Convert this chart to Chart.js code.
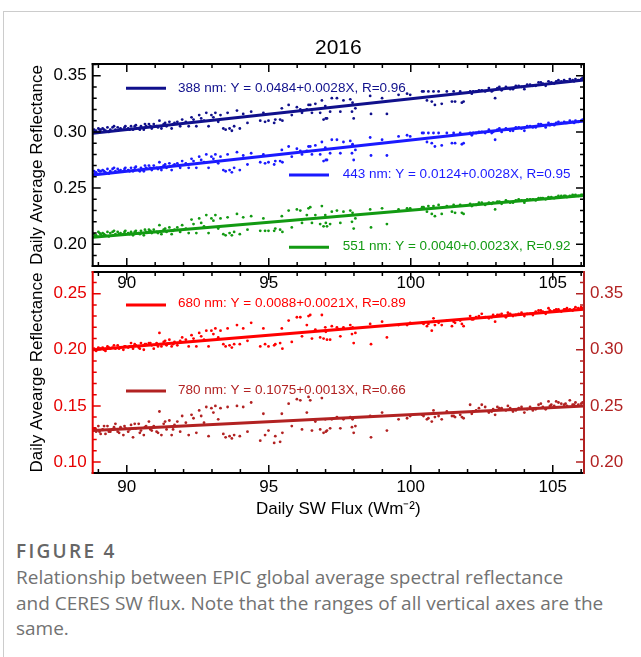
<!DOCTYPE html>
<html>
<head>
<meta charset="utf-8">
<script src="https://cdn.jsdelivr.net/npm/chart.js@4.4.1/dist/chart.umd.min.js"></script>
<style>
html,body{margin:0;padding:0;background:#fff;}
body{width:641px;height:657px;position:relative;overflow:hidden;}
#frame{position:absolute;left:3px;top:11px;width:700px;height:700px;border-left:1px solid #cccccc;border-top:1px solid #cccccc;}
#c1{position:absolute;left:0;top:0;}
#c2{position:absolute;left:0;top:268px;}
#fig{position:absolute;left:16px;top:538px;font-family:"Open Sans",sans-serif;font-weight:600;font-size:19px;line-height:26px;color:#666666;letter-spacing:2.3px;white-space:nowrap;}
#cap{position:absolute;left:16px;top:565px;width:625px;font-family:"Open Sans",sans-serif;font-size:19px;line-height:25.7px;color:#727272;white-space:nowrap;}
</style>
</head>
<body>
<div id="frame"></div>
<canvas id="c1" width="641" height="300"></canvas>
<canvas id="c2" width="641" height="260"></canvas>
<div id="fig">FIGURE 4</div>
<div id="cap">Relationship between EPIC global average spectral reflectance<br>and CERES SW flux. Note that the ranges of all vertical axes are the<br>same.</div>
<script>
// ---------------- data ----------------
const flux = [
88.85,88.92,89.00,89.08,89.15,89.25,89.32,89.42,89.50,89.60,89.68,89.78,89.88,89.95,90.05,90.15,90.22,90.32,90.42,90.50,90.60,90.68,90.78,90.88,90.95,91.05,91.15,91.22,91.30,91.40,91.50,91.58,91.68,91.78,91.88,91.95,
92.08,92.18,92.28,92.35,92.45,92.55,92.62,92.72,92.80,92.88,92.98,93.05,93.12,93.22,93.30,93.40,93.48,93.55,93.62,93.70,93.78,93.88,93.98,94.10,94.25,94.38,
94.70,94.81,94.87,94.99,95.19,95.23,95.40,95.46,95.48,95.70,95.81,95.99,96.11,96.17,96.34,96.40,96.46,96.52,96.64,96.81,96.87,96.93,96.99,97.01,97.05,97.16,97.22,97.40,97.52,97.63,97.87,97.93,97.95,97.99,98.05,98.57,98.60,98.99,99.16,99.57,99.87,99.98,100.40,
100.45,100.57,100.62,100.74,100.80,100.85,100.98,101.09,101.27,101.45,101.51,101.56,101.74,101.80,101.86,102.09,102.15,102.30,102.50,102.62,102.75,102.90,102.97,103.05,103.20,103.35,103.50,103.70,103.90,104.00,104.10,104.30,104.50,104.65,104.75,104.85,104.95,105.05,105.20,105.30,105.40,105.50,105.60,105.70,105.80,105.90,106.00,
88.88,89.04,89.20,89.37,89.55,89.73,89.92,90.10,90.28,90.46,90.64,90.83,91.10,91.35,91.63,
102.20,102.40,102.85,103.12,103.42,103.60,103.80,104.20,104.40,104.58,104.90,105.12,105.45,105.75,106.05];

const refl388 = [
.302,.301,.303,.302,.303,.301,.304,.302,.304,.302,.304,.303,.302,.305,.303,.305,.302,.306,.303,.305,.302,.305,.307,.303,.307,.305,.310,.303,.307,.305,.309,.303,.308,.309,.305,.311,
.309,.305,.313,.311,.305,.315,.312,.310,.317,.305,.315,.313,.317,.309,.315,.303,.302,.317,.303,.301,.305,.319,.303,.316,.308,.318,
.310,.317,.309,.310,.308,.311,.311,.321,.310,.324,.315,.322,.320,.317,.320,.324,.324,.317,.325,.317,.328,.311,.323,.312,.312,.318,.330,.330,.318,.328,.329,.318,.326,.312,.321,.332,.316,.330,.316,.333,.334,.333,.336,
.336,.328,.336,.327,.336,.324,.336,.325,.336,.327,.336,.327,.336,.326,.327,.336,.334,.336,.337,.336,.339,.337,.330,.339,.337,.340,.338,.341,.340,.338,.342,.341,.344,.343,.341,.345,.344,.343,.346,.345,.346,.345,.347,.346,.347,.346,.347,
.300,.302,.302,.300,.305,.302,.304,.302,.305,.302,.307,.305,.304,.308,.307,
.336,.337,.336,.340,.339,.338,.341,.342,.341,.344,.343,.345,.345,.345,.348];

const refl443 = [
.265,.264,.266,.265,.266,.264,.267,.265,.267,.265,.267,.266,.265,.268,.266,.268,.265,.269,.266,.268,.265,.268,.270,.266,.270,.268,.273,.266,.270,.268,.272,.266,.271,.272,.268,.274,
.272,.268,.276,.274,.268,.278,.275,.273,.280,.268,.278,.276,.280,.272,.278,.266,.265,.280,.266,.264,.268,.282,.266,.279,.271,.281,
.273,.280,.272,.273,.271,.274,.274,.284,.273,.287,.278,.285,.283,.280,.283,.287,.287,.280,.288,.280,.291,.274,.286,.275,.275,.281,.293,.293,.281,.291,.292,.281,.289,.275,.284,.295,.279,.293,.279,.296,.297,.296,.299,
.299,.291,.299,.290,.299,.287,.299,.288,.299,.290,.299,.290,.299,.289,.290,.299,.297,.299,.300,.299,.302,.300,.293,.302,.300,.303,.301,.304,.303,.301,.305,.304,.307,.306,.304,.308,.307,.306,.309,.308,.309,.308,.310,.309,.310,.309,.310,
.263,.265,.265,.263,.268,.265,.267,.265,.268,.265,.270,.268,.267,.271,.270,
.299,.300,.299,.303,.302,.301,.304,.305,.304,.307,.306,.308,.308,.308,.311];

const refl551 = [
.209,.208,.211,.209,.210,.208,.211,.210,.211,.209,.211,.210,.209,.212,.210,.211,.208,.212,.210,.212,.208,.211,.213,.210,.213,.211,.217,.209,.213,.211,.215,.209,.213,.215,.211,.217,
.214,.210,.222,.218,.210,.223,.219,.216,.226,.210,.223,.221,.226,.214,.223,.209,.208,.224,.210,.208,.211,.227,.209,.224,.213,.225,
.212,.223,.212,.212,.212,.214,.213,.225,.211,.230,.215,.231,.230,.219,.226,.232,.233,.219,.226,.218,.234,.216,.226,.219,.216,.218,.229,.230,.219,.229,.230,.220,.228,.214,.223,.231,.215,.232,.218,.231,.232,.232,.233,
.233,.229,.234,.227,.234,.225,.235,.227,.234,.229,.235,.228,.235,.228,.227,.236,.234,.235,.237,.235,.237,.237,.231,.238,.236,.239,.237,.239,.239,.237,.240,.240,.241,.241,.240,.242,.242,.241,.243,.243,.243,.242,.243,.244,.244,.243,.244,
.207,.210,.209,.207,.212,.209,.211,.209,.211,.209,.213,.212,.210,.214,.212,
.235,.237,.236,.238,.238,.237,.240,.240,.239,.241,.241,.242,.243,.243,.244];

const refl680 = [
.201,.199,.202,.201,.202,.199,.203,.201,.202,.201,.204,.202,.200,.203,.202,.206,.201,.204,.202,.206,.200,.205,.206,.204,.201,.206,.215,.203,.207,.204,.209,.203,.207,.204,.208,.211,
.209,.203,.213,.210,.203,.215,.212,.209,.217,.203,.217,.214,.219,.211,.217,.205,.203,.219,.204,.202,.205,.222,.205,.219,.208,.224,
.203,.219,.205,.203,.204,.205,.206,.219,.201,.226,.207,.229,.229,.212,.222,.230,.231,.210,.218,.211,.231,.210,.220,.216,.209,.209,.221,.220,.212,.220,.222,.214,.220,.206,.215,.223,.205,.225,.211,.222,.222,.224,.224,
.223,.221,.223,.217,.228,.222,.224,.222,.226,.221,.225,.224,.226,.223,.221,.230,.227,.229,.232,.229,.228,.231,.225,.231,.232,.229,.232,.231,.233,.230,.232,.231,.235,.234,.232,.237,.234,.235,.236,.234,.236,.237,.236,.235,.238,.237,.238,
.200,.201,.200,.202,.204,.201,.203,.203,.205,.201,.205,.206,.203,.208,.205,
.227,.230,.229,.231,.233,.230,.232,.232,.234,.235,.235,.236,.236,.236,.237];

// 780 nm is read against the right-hand axis
const refl780 = [
.230,.227,.232,.225,.229,.225,.232,.227,.229,.234,.227,.231,.224,.230,.227,.233,.222,.230,.234,.228,.224,.232,.236,.228,.232,.227,.245,.224,.234,.229,.237,.224,.233,.236,.227,.241,
.235,.224,.242,.239,.226,.246,.241,.235,.249,.223,.248,.244,.250,.238,.248,.225,.222,.249,.223,.221,.224,.250,.223,.249,.227,.253,
.219,.243,.224,.228,.217,.223,.218,.243,.226,.252,.232,.256,.255,.229,.244,.258,.255,.228,.236,.229,.257,.226,.238,.227,.228,.230,.238,.240,.230,.238,.240,.231,.238,.226,.232,.241,.222,.244,.228,.238,.239,.241,.242,
.241,.238,.239,.236,.246,.240,.241,.238,.245,.241,.241,.240,.242,.240,.239,.251,.243,.246,.251,.249,.244,.247,.242,.249,.248,.246,.248,.246,.249,.244,.247,.246,.251,.249,.247,.254,.251,.250,.253,.252,.251,.250,.255,.251,.253,.251,.252,
.230,.227,.232,.227,.231,.226,.232,.229,.234,.226,.231,.229,.226,.236,.229,
.245,.248,.245,.248,.250,.245,.248,.249,.247,.252,.250,.254,.252,.251,.253];

// regression lines: value at left and right end of the flux axis
const fitX = [88.8, 106.1];
const fitStart = [0.2988, 0.2616, 0.2062, 0.2000, 0.2280];
const fitEnd   = [0.3462, 0.3098, 0.2435, 0.2362, 0.2500];
const fitLabels = [
  '388 nm: Y = 0.0484+0.0028X, R=0.96',
  '443 nm: Y = 0.0124+0.0028X, R=0.95',
  '551 nm: Y = 0.0040+0.0023X, R=0.92',
  '680 nm: Y = 0.0088+0.0021X, R=0.89',
  '780 nm: Y = 0.1075+0.0013X, R=0.66'];

const xTicks = [90, 95, 100, 105];
const yTicksTop = [0.20, 0.25, 0.30, 0.35];
const yTicksLeft = [0.10, 0.15, 0.20, 0.25];
const yTicksRight = [0.20, 0.25, 0.30, 0.35];

// ---------------- styles ----------------
const COL = ['#10108c', '#1a1aff', '#129a12', '#ff0000', '#b22222'];
const LEFTRED = '#e60000';
const FONT = '"Liberation Sans", Arial, Helvetica, sans-serif';
Chart.defaults.font.family = FONT;
Chart.defaults.color = '#000';

const pts = (ys) => flux.map((x, i) => ({x: x, y: ys[i]}));
const fit = (i) => [{x: fitX[0], y: fitStart[i]}, {x: fitX[1], y: fitEnd[i]}];

function scatterDs(ys, c, axis) {
  return {type: 'scatter', data: pts(ys), yAxisID: axis, order: 2,
    pointRadius: 1.4, pointBorderWidth: 0, backgroundColor: c, borderColor: c, pointHoverRadius: 1.4};
}
function lineDs(i, c, axis) {
  return {type: 'line', data: fit(i), yAxisID: axis, order: 1, borderColor: c, borderWidth: 3,
    pointRadius: 0, fill: false, tension: 0, showLine: true};
}

const framePlugin = {
  id: 'frame',
  afterDatasetsDraw(chart, args, opts) {
    const ctx = chart.ctx, a = chart.chartArea;
    ctx.save();
    for (const e of opts.edges) {
      const s = chart.scales[e.scale];
      ctx.strokeStyle = e.color;
      ctx.lineWidth = 1.5;
      ctx.beginPath();
      const k0 = Math.ceil(s.min / e.minor - 1e-6), k1 = Math.floor(s.max / e.minor + 1e-6);
      for (let k = k0; k <= k1; k++) {
        const v = k * e.minor;
        const r = v / e.major;
        const len = Math.abs(r - Math.round(r)) < 1e-6 ? 8 : 4;
        const p = s.getPixelForValue(v);
        if (e.edge === 'left') { ctx.moveTo(a.left, p); ctx.lineTo(a.left + len, p); }
        if (e.edge === 'right') { ctx.moveTo(a.right, p); ctx.lineTo(a.right - len, p); }
        if (e.edge === 'bottom') { ctx.moveTo(p, a.bottom); ctx.lineTo(p, a.bottom - len); }
        if (e.edge === 'top') { ctx.moveTo(p, a.top); ctx.lineTo(p, a.top + len); }
      }
      ctx.stroke();
      ctx.lineWidth = 2;
      ctx.beginPath();
      if (e.edge === 'left') { ctx.moveTo(a.left, a.top - 1); ctx.lineTo(a.left, a.bottom + 1); }
      if (e.edge === 'right') { ctx.moveTo(a.right, a.top - 1); ctx.lineTo(a.right, a.bottom + 1); }
      if (e.edge === 'bottom') { ctx.moveTo(a.left - 1, a.bottom); ctx.lineTo(a.right + 1, a.bottom); }
      if (e.edge === 'top') { ctx.moveTo(a.left - 1, a.top); ctx.lineTo(a.right + 1, a.top); }
      ctx.stroke();
    }
    ctx.restore();
  }
};

const keyPlugin = {
  id: 'keys',
  afterDatasetsDraw(chart, args, opts) {
    const ctx = chart.ctx;
    ctx.save();
    for (const k of opts.items) {
      ctx.strokeStyle = k.color; ctx.lineWidth = 3;
      ctx.beginPath(); ctx.moveTo(k.x1, k.y); ctx.lineTo(k.x2, k.y); ctx.stroke();
      ctx.fillStyle = k.color;
      ctx.font = '13.5px ' + FONT;
      ctx.textAlign = 'left'; ctx.textBaseline = 'middle';
      ctx.fillText(k.text, k.tx, k.ty);
    }
    ctx.restore();
  }
};

const setTicks = (arr) => (s) => { s.ticks = arr.map(v => ({value: v})); };
const fixW = (w) => (s) => { s.width = w; s.paddingTop = 0; s.paddingBottom = 0; };
const fixH = (h) => (s) => { s.height = h; s.paddingLeft = 0; s.paddingRight = 0; };
const noGrid = {display: false, drawTicks: false, tickLength: 0};

// ---------------- top panel ----------------
new Chart(document.getElementById('c1'), {
  data: {datasets: [
    scatterDs(refl388, COL[0], 'y'), scatterDs(refl443, COL[1], 'y'), scatterDs(refl551, COL[2], 'y'),
    lineDs(0, COL[0], 'y'), lineDs(1, COL[1], 'y'), lineDs(2, COL[2], 'y')]},
  options: {
    responsive: false, animation: false, devicePixelRatio: 1,
    layout: {padding: {left: 0, right: 57, top: 0, bottom: 4}},
    scales: {
      x: {type: 'linear', position: 'bottom', min: 88.8, max: 106.1,
        afterBuildTicks: setTicks(xTicks),
        ticks: {font: {size: 17}, color: '#000', padding: 7, maxRotation: 0, autoSkip: false, callback: v => String(v)},
        grid: noGrid, border: {display: false},
        afterFit: fixH(30)},
      y: {type: 'linear', position: 'left', min: 0.1807, max: 0.3604,
        afterBuildTicks: setTicks(yTicksTop),
        ticks: {font: {size: 17}, color: '#000', padding: 6, callback: v => v.toFixed(2)},
        title: {display: true, text: 'Daily Average Reflectance', font: {size: 17, weight: 'normal'}, color: '#000', padding: {top: 27.3, bottom: 0}},
        grid: noGrid, border: {display: false},
        afterFit: fixW(92.7)}
    },
    plugins: {
      legend: {display: false}, tooltip: {enabled: false},
      title: {display: true, text: '2016', fullSize: false, font: {size: 21, weight: 'normal'}, color: '#000', padding: {top: 36, bottom: 2.8}},
      frame: {edges: [
        {edge: 'top', scale: 'x', color: '#000', minor: 1, major: 5},
        {edge: 'bottom', scale: 'x', color: '#000', minor: 1, major: 5},
        {edge: 'left', scale: 'y', color: '#000', minor: 0.01, major: 0.05},
        {edge: 'right', scale: 'y', color: '#000', minor: 0.01, major: 0.05}]},
      keys: {items: [
        {x1: 126, x2: 166, y: 88.3, tx: 178, ty: 88.5, color: COL[0], text: fitLabels[0]},
        {x1: 289, x2: 329, y: 175, tx: 342.7, ty: 174, color: COL[1], text: fitLabels[1]},
        {x1: 289, x2: 329, y: 247.3, tx: 342.7, ty: 246, color: COL[2], text: fitLabels[2]}]}
    }
  },
  plugins: [framePlugin, keyPlugin]
});

// ---------------- bottom panel ----------------
new Chart(document.getElementById('c2'), {
  data: {datasets: [
    scatterDs(refl680, COL[3], 'y'), scatterDs(refl780, COL[4], 'y2'),
    lineDs(3, COL[3], 'y'), lineDs(4, COL[4], 'y2')]},
  options: {
    responsive: false, animation: false, devicePixelRatio: 1,
    layout: {padding: {left: 0, right: 0, top: 4, bottom: 5}},
    scales: {
      x: {type: 'linear', position: 'bottom', min: 88.8, max: 106.1,
        afterBuildTicks: setTicks(xTicks),
        ticks: {font: {size: 17}, color: '#000', padding: 4.3, maxRotation: 0, autoSkip: false, callback: v => String(v)},
        title: {display: true, text: 'Daily SW Flux (Wm⁻²)', font: {size: 17, weight: 'normal'}, color: '#000', padding: {top: 0, bottom: 3}},
        grid: noGrid, border: {display: false},
        afterFit: fixH(50)},
      y: {type: 'linear', position: 'left', min: 0.0902, max: 0.2693,
        afterBuildTicks: setTicks(yTicksLeft),
        ticks: {font: {size: 17}, color: LEFTRED, padding: 6, callback: v => v.toFixed(2)},
        title: {display: true, text: 'Daily Avearge Reflectance', font: {size: 17, weight: 'normal'}, color: '#000', padding: {top: 27.3, bottom: 0}},
        grid: noGrid, border: {display: false},
        afterFit: fixW(92.7)},
      y2: {type: 'linear', position: 'right', min: 0.1902, max: 0.3693,
        afterBuildTicks: setTicks(yTicksRight),
        ticks: {font: {size: 17}, color: COL[4], padding: 6, callback: v => v.toFixed(2)},
        grid: noGrid, border: {display: false},
        afterFit: fixW(57)}
    },
    plugins: {
      legend: {display: false}, tooltip: {enabled: false},
      frame: {edges: [
        {edge: 'top', scale: 'x', color: '#000', minor: 1, major: 5},
        {edge: 'bottom', scale: 'x', color: '#000', minor: 1, major: 5},
        {edge: 'left', scale: 'y', color: LEFTRED, minor: 0.01, major: 0.05},
        {edge: 'right', scale: 'y2', color: COL[4], minor: 0.01, major: 0.05}]},
      keys: {items: [
        {x1: 126, x2: 166, y: 37, tx: 178, ty: 35.3, color: COL[3], text: fitLabels[3]},
        {x1: 126, x2: 166, y: 123, tx: 178, ty: 122, color: COL[4], text: fitLabels[4]}]}
    }
  },
  plugins: [framePlugin, keyPlugin]
});
</script>
</body>
</html>
